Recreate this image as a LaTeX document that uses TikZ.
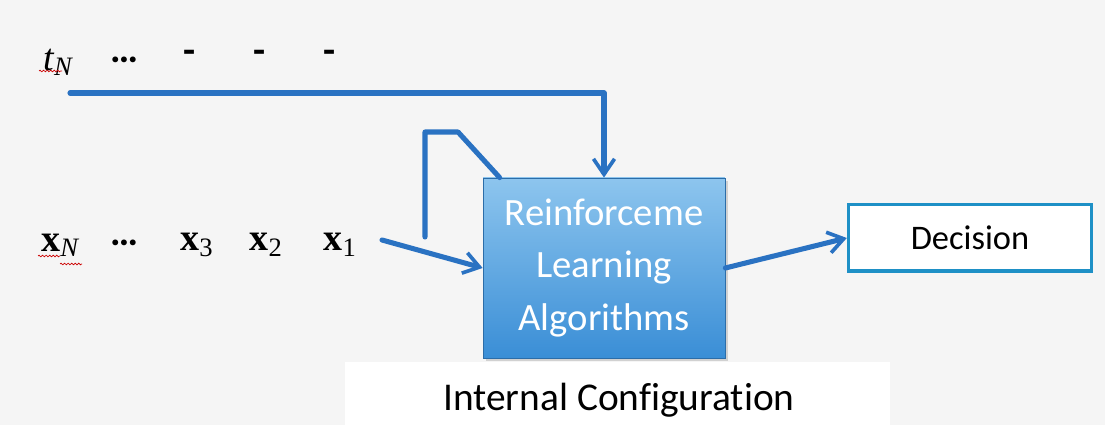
\documentclass[tikz,border=0pt]{standalone}
\usepackage{amsmath,amssymb}
\usepackage{fontspec}
\usepackage{tikz}
\usetikzlibrary{arrows.meta,calc,positioning,shadows,decorations.pathmorphing}
\usepackage{xcolor}
\setmainfont[Ligatures=NoCommon]{Carlito}
\newfontfamily\timesf{Liberation Serif}
\definecolor{flowblue}{HTML}{2A72C2}
\definecolor{boxtop}{HTML}{8DC5EE}
\definecolor{boxbot}{HTML}{3A8ED6}
\definecolor{boxrim}{HTML}{2C6DA8}
\definecolor{decrim}{HTML}{1E90C6}
\definecolor{paper}{HTML}{F5F5F5}
\newcommand{\tvar}[1]{{\timesf\itshape t\textsubscript{#1}}}
\newcommand{\xvar}[1]{{\timesf\bfseries x\textsubscript{\mdseries#1}}}

\begin{document}
\begin{tikzpicture}[x=0.025cm,y=-0.025cm,>={Straight Barb[length=11pt,width=15pt,line width=2.6pt]},
  flow/.style={flowblue,line width=3.6pt,line cap=round,line join=round},
  seq/.style={inner sep=0pt,font=\fontsize{27}{30}\selectfont},
  dots/.style={inner sep=0pt,font=\fontsize{28}{30}\selectfont\bfseries},
  squiggle/.style={red!80!black,line width=0.5pt,decorate,decoration={snake,amplitude=0.6pt,segment length=2.5pt}}]
  \useasboundingbox (0,0) rectangle (1105,425);
  \fill[paper] (0,0) rectangle (1105,425);
  \fill[white] (345,362) rectangle (890,425);
  % input sequences
  \node[seq] (tN) at (58,62) {\tvar{\itshape N}};
  \node[dots] (tD) at (125,60) {…};
  \node[dots] (t3) at (190,57) {-};
  \node[dots] (t2) at (260,57) {-};
  \node[dots] (t1) at (330,57) {-};
  \node[seq] (xN) at (60,245) {\xvar{\itshape N}};
  \node[dots] (xD) at (125,243) {…};
  \node[seq] (x3) at (197,245) {\xvar{3}};
  \node[seq] (x2) at (266,245) {\xvar{2}};
  \node[seq] (x1) at (340,245) {\xvar{1}};
  \draw[squiggle] (39,71) -- (62,71);
  \draw[squiggle] (38,256) -- (60,256);
  \draw[squiggle] (60,264) -- (82,264);
  % main blocks
  \node[draw=boxrim,line width=0.6pt,top color=boxtop,bottom color=boxbot,
    drop shadow={opacity=0.3,shadow xshift=2pt,shadow yshift=-2pt},
    minimum width=172pt,minimum height=128pt,align=center,text=white,
    font=\fontsize{27.5}{37.5}\selectfont] (RL) at (604,268)
    {Reinforceme\\Learning\\Algorithms};
  \node[draw=decrim,line width=2.2pt,fill=white,minimum width=173pt,minimum height=47pt,
    font=\fontsize{24.5}{28}\selectfont] (Dec) at (970,238) {Decision};
  \node[font=\fontsize{28}{32}\selectfont] (IC) at (619,400) {Internal Configuration};
  % connectors
  \coordinate (T0) at (70,93);
  \coordinate (F0) at (425,237);
  \coordinate (F1) at (458,132);
  \coordinate (X0) at (382,240);
  \draw[flow,->] (T0) -| (RL.north);
  \draw[flow] (F0) |- (F1) -- ($(RL.north west)+(17,0)$);
  \draw[flow,->] (X0) -- (RL.west);
  \draw[flow,->] (RL.east) -- (Dec.west);
\end{tikzpicture}
\end{document}
